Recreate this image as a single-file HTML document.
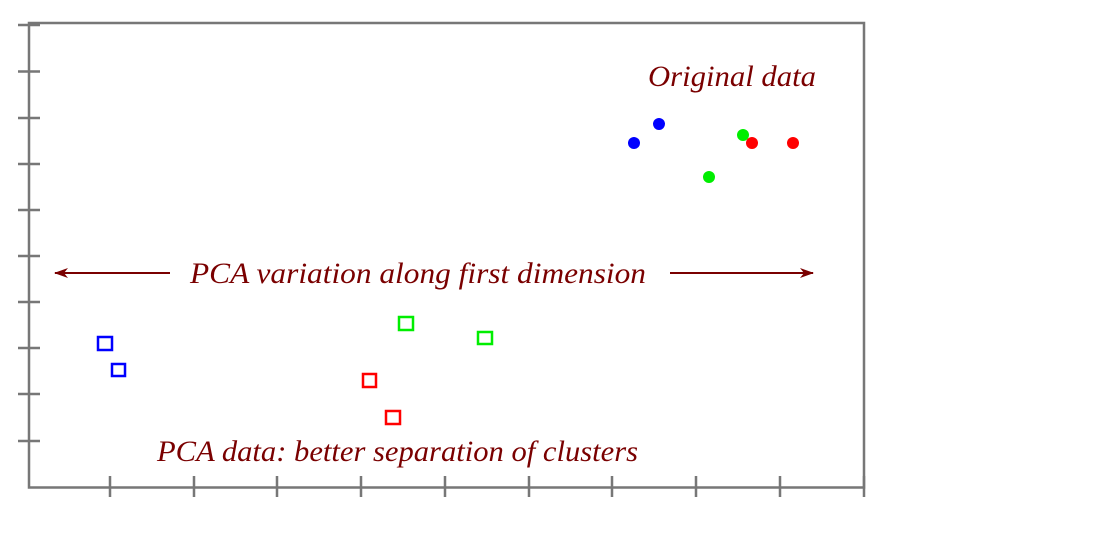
<!DOCTYPE html>
<html><head><style>body{margin:0;background:#fff}</style></head><body>
<svg width="1114" height="555" xmlns="http://www.w3.org/2000/svg">
<defs><marker id="a" markerWidth="14" markerHeight="10" refX="13" refY="5" orient="auto" markerUnits="userSpaceOnUse"><path d="M0,0 L14,5 L0,10 L4,5 Z" fill="#7a0000"/></marker></defs>
<g stroke="#777" stroke-width="2.5" fill="none">
<path d="M29,23 H864 V487.5 H29 Z"/>
<path d="M18,25H40M18,71.5H40M18,118H40M18,164H40M18,210H40M18,256H40M18,302H40M18,348H40M18,394H40M18,441H40"/>
<path d="M110,476V497M194,476V497M277,476V497M361,476V497M445,476V497M529,476V497M612,476V497M696,476V497M780,476V497M864,476V497"/>
</g>
<g font-family="Liberation Serif, serif" font-style="italic" fill="#7a0000" font-size="30">
<text x="648" y="86" textLength="168" lengthAdjust="spacingAndGlyphs">Original data</text>
<text x="190" y="283" textLength="456" lengthAdjust="spacingAndGlyphs">PCA variation along first dimension</text>
<text x="157" y="461" textLength="481" lengthAdjust="spacingAndGlyphs">PCA data: better separation of clusters</text>
</g>
<line x1="170" y1="273" x2="55" y2="273" stroke="#7a0000" stroke-width="2" marker-end="url(#a)"/>
<line x1="670" y1="273" x2="813" y2="273" stroke="#7a0000" stroke-width="2" marker-end="url(#a)"/>
<g>
<circle cx="634" cy="143" r="6" fill="#0000ff"/><circle cx="659" cy="124" r="6" fill="#0000ff"/>
<circle cx="709" cy="177" r="6" fill="#00ee00"/><circle cx="743" cy="135" r="6" fill="#00ee00"/>
<circle cx="752" cy="143" r="6" fill="#ff0000"/><circle cx="793" cy="143" r="6" fill="#ff0000"/>
</g>
<g fill="none" stroke-width="2.5">
<rect x="98" y="337" width="14" height="13" stroke="#0000ff"/><rect x="112" y="364" width="13" height="12" stroke="#0000ff"/>
<rect x="399" y="317" width="14" height="13" stroke="#00ee00"/><rect x="478" y="332" width="14" height="12" stroke="#00ee00"/>
<rect x="363" y="374" width="13" height="13" stroke="#ff0000"/><rect x="386" y="411" width="14" height="13" stroke="#ff0000"/>
</g>
</svg>
</body></html>
